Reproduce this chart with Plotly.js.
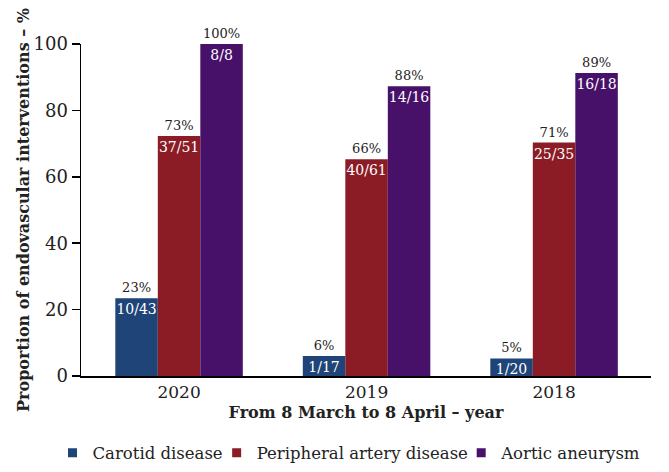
<!DOCTYPE html>
<html>
<head>
<meta charset="utf-8">
<script src="https://cdn.plot.ly/plotly-3.0.1.min.js"></script>
<style>html,body{margin:0;padding:0;background:#fff;}#chart{width:669px;height:472px;}</style>
</head>
<body>
<div id="chart"></div>
<script>
const years = ["2020", "2019", "2018"];
const seriesNames = ["Carotid disease", "Peripheral artery disease", "Aortic aneurysm"];
const carotid = [23.4, 6.0, 5.3];
const peripheral = [72.3, 65.3, 70.3];
const aortic = [100, 87.3, 91.3];
const carotidPct = ["23%", "6%", "5%"];
const peripheralPct = ["73%", "66%", "71%"];
const aorticPct = ["100%", "88%", "89%"];
const carotidFrac = ["10/43", "1/17", "1/20"];
const peripheralFrac = ["37/51", "40/61", "25/35"];
const aorticFrac = ["8/8", "14/16", "16/18"];
const colors = ["#1f4477", "#8b1c26", "#481169"];

const FONT = "DejaVu Serif";
const values = [carotid, peripheral, aortic];
const pcts = [carotidPct, peripheralPct, aorticPct];
const fracs = [carotidFrac, peripheralFrac, aorticFrac];
const legendIds = ["legend", "legend2", "legend3"];
const legendX = [-0.050, 0.238, 0.667];

const traces = [];
for (let i = 0; i < 3; i++) {
  traces.push({
    type: "bar", x: years, y: values[i], name: seriesNames[i],
    offsetgroup: String(i), showlegend: false,
    marker: {color: colors[i], line: {width: 0}},
    text: fracs[i], textposition: "inside", insidetextanchor: "end",
    textangle: 0, constraintext: "none",
    textfont: {family: FONT, size: 14, color: "#ffffff"},
    hoverinfo: "skip", cliponaxis: false
  });
}
for (let i = 0; i < 3; i++) {
  traces.push({
    type: "bar", x: years, y: values[i], name: seriesNames[i] + " pct",
    offsetgroup: String(i), showlegend: false,
    marker: {color: "rgba(0,0,0,0)", line: {width: 0}},
    text: pcts[i], textposition: "outside", textangle: 0, constraintext: "none",
    textfont: {family: FONT, size: 13, color: "#222222"},
    hoverinfo: "skip", cliponaxis: false
  });
}
// legend-only entries (no visible marks)
for (let i = 0; i < 3; i++) {
  traces.push({
    type: "scatter", mode: "markers", x: [null], y: [null], name: seriesNames[i],
    legend: legendIds[i], showlegend: true,
    marker: {color: colors[i], symbol: "square", size: 9},
    hoverinfo: "skip"
  });
}

const layout = {
  width: 669, height: 472,
  margin: {l: 81, r: 18, t: 44, b: 96, autoexpand: false},
  paper_bgcolor: "#ffffff", plot_bgcolor: "#ffffff",
  barmode: "group", bargap: 0.32, bargroupgap: 0,
  font: {family: FONT, color: "#222222"},
  xaxis: {
    type: "category", range: [-0.523, 2.517], automargin: false,
    showline: true, linecolor: "#000000", linewidth: 1.5,
    ticks: "", showgrid: false, zeroline: false,
    tickfont: {family: FONT, size: 17, color: "#222222"},
    title: {text: "<b>From 8 March to 8 April – year</b>", font: {family: FONT, size: 16, color: "#222222"}, standoff: 6}
  },
  yaxis: {
    range: [0, 100], tickvals: [0, 20, 40, 60, 80, 100], automargin: false,
    showline: true, linecolor: "#000000", linewidth: 1.5,
    ticks: "outside", ticklen: 8, tickcolor: "#000000", tickwidth: 1.5,
    showgrid: false, zeroline: false,
    tickfont: {family: FONT, size: 18, color: "#222222"},
    title: {text: "<b>Proportion of endovascular interventions – %</b>", font: {family: FONT, size: 16, color: "#222222"}, standoff: 0}
  },
  showlegend: true
};
for (let i = 0; i < 3; i++) {
  layout[legendIds[i]] = {
    orientation: "h", x: legendX[i], xanchor: "left", y: -0.232, yanchor: "middle",
    font: {family: FONT, size: 16.5, color: "#222222"},
    itemwidth: 30, bgcolor: "rgba(0,0,0,0)", borderwidth: 0
  };
}

Plotly.newPlot("chart", traces, layout, {displayModeBar: false, staticPlot: true});
</script>
</body>
</html>
